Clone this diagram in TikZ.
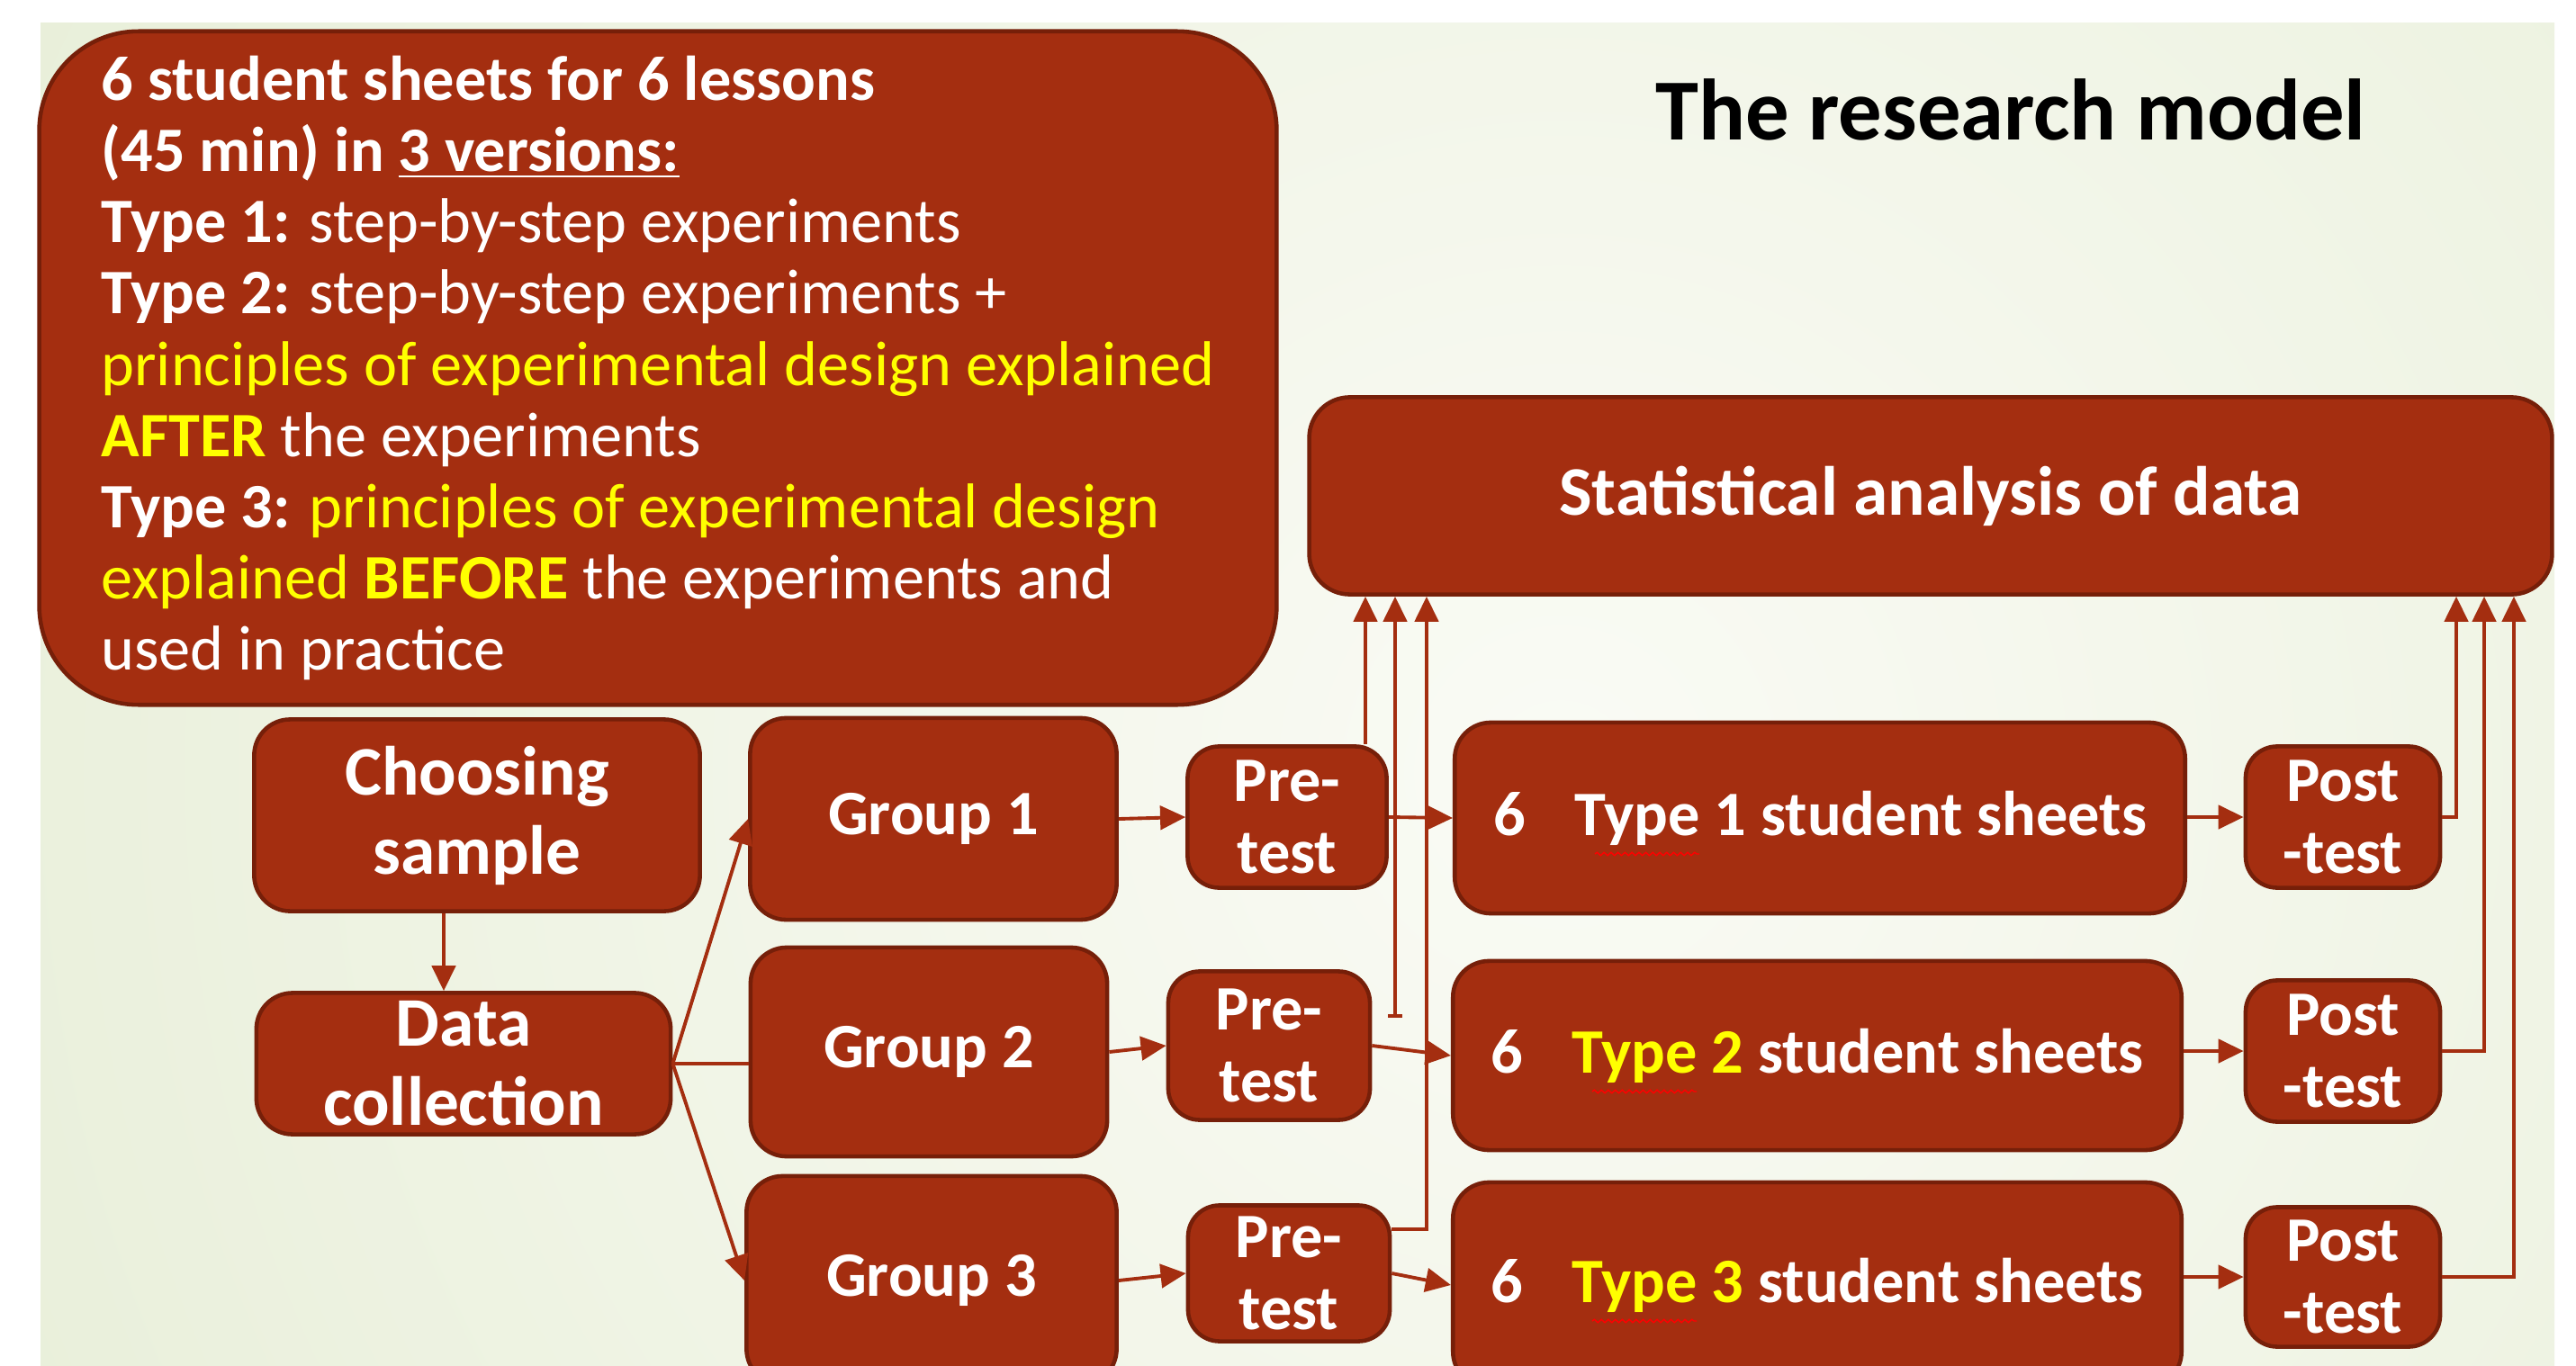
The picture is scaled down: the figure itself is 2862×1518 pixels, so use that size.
\documentclass[tikz,border=0pt]{standalone}
\usepackage{fontspec}
\setmainfont{Carlito}
\usetikzlibrary{arrows.meta,calc,decorations.pathmorphing}

\definecolor{rust}{RGB}{164,46,16}
\definecolor{rustdark}{RGB}{118,31,9}
\definecolor{hilite}{RGB}{255,255,0}
\definecolor{bgin}{RGB}{250,251,245}
\definecolor{bgout}{RGB}{216,228,192}

\tikzset{
  box/.style={draw=rustdark, line width=1.3pt, fill=rust, text=white, rounded corners=0.4cm,
    align=center, inner sep=0pt, font=\bfseries\fontsize{20}{22.5}\selectfont},
  big/.style={font=\bfseries\fontsize{22}{25}\selectfont},
  arr/.style={draw=rust, line width=1.1pt, -{Triangle[length=8pt,width=7.5pt]}},
  link/.style={draw=rust, line width=1.1pt},
  spell/.style={draw=red, line width=0.4pt, decorate,
    decoration={snake, amplitude=0.5pt, segment length=2.2pt}},
}
\newcommand{\hl}[1]{\textcolor{hilite}{#1}}

\begin{document}
\begin{tikzpicture}[x=0.01cm, y=-0.01cm]
\useasboundingbox (0,0) rectangle (2862,1518);
\clip (0,0) rectangle (2862,1518);

% slide background
\begin{scope}
\clip (45,25) rectangle (2838,1518);
\shade[inner color=bgin, outer color=bgout] (1734,858) circle (37cm);
\end{scope}

\node[box, align=left, rounded corners=1.1cm, minimum width=13.74cm, minimum height=7.48cm,
  font=\fontsize{20}{22.5}\selectfont] (sheets) at (731,409) {%
  \textbf{6 student sheets for 6 lessons}\\
  \textbf{(45 min) in \underline{3 versions:}}\\
  \textbf{Type 1:} step-by-step experiments\\
  \textbf{Type 2:} step-by-step experiments +\\
  \hl{principles of experimental design explained}\\
  \hl{\textbf{AFTER}} the experiments\\
  \textbf{Type 3:} \hl{principles of experimental design}\\
  \hl{explained \textbf{BEFORE}} the experiments and\\
  used in practice};
\node[font=\bfseries\fontsize{27.5}{30}\selectfont] (title) at (2234,122) {The research model};

\node[box, big, rounded corners=0.45cm, minimum width=13.8cm, minimum height=2.19cm] (stats) at (2145,551) {Statistical analysis of data};

\node[box, big, minimum width=4.95cm, minimum height=2.13cm] (choose) at (530,906) {Choosing\\sample};
\node[box, big, minimum width=4.6cm, minimum height=1.57cm] (collect) at (515,1182) {Data\\collection};

\node[box, minimum width=4.07cm, minimum height=2.24cm] (g1) at (1037,910) {Group 1};
\node[box, minimum width=3.96cm, minimum height=2.32cm] (g2) at (1032,1169) {Group 2};
\node[box, minimum width=4.11cm, minimum height=2.32cm] (g3) at (1035,1423) {Group 3};

\node[box, rounded corners=0.35cm, minimum width=2.21cm, minimum height=1.57cm] (pre1) at (1430,908) {Pre-\\test};
\node[box, rounded corners=0.35cm, minimum width=2.24cm, minimum height=1.65cm] (pre2) at (1410,1162) {Pre-\\test};
\node[box, rounded corners=0.35cm, minimum width=2.24cm, minimum height=1.51cm] (pre3) at (1432,1415) {Pre-\\test};

\node[box, minimum width=8.11cm, minimum height=2.12cm] (t1) at (2022,909) {6\hspace{0.55cm}Type 1 student sheets};
\node[box, minimum width=8.09cm, minimum height=2.10cm] (t2) at (2019,1173) {6\hspace{0.55cm}\hl{Type 2} student sheets};
\node[box, minimum width=8.09cm, minimum height=2.28cm] (t3) at (2019,1428) {6\hspace{0.55cm}\hl{Type 3} student sheets};

\node[box, rounded corners=0.35cm, minimum width=2.16cm, minimum height=1.57cm] (post1) at (2603,908) {Post\\-test};
\node[box, rounded corners=0.35cm, minimum width=2.16cm, minimum height=1.57cm] (post2) at (2603,1168) {Post\\-test};
\node[box, rounded corners=0.35cm, minimum width=2.16cm, minimum height=1.55cm] (post3) at (2603,1419) {Post\\-test};

% where the vertical lines run
\coordinate (dropx) at (493,0);
\coordinate (up1) at (1517,0);
\coordinate (up2) at (1550,1131);
\coordinate (up3) at (1585,1366);
\coordinate (rx1) at (2729,0);
\coordinate (rx2) at (2760,0);
\coordinate (rx3) at (2793,0);

\draw[arr] (choose.south -| dropx) -- (collect.north -| dropx);
\draw[arr] (collect.east) -- (g1.west);
\draw[link] (collect.east) -- (g2.west |- collect.east);
\draw[arr] (collect.east) -- (g3.west);

\foreach \i in {1,2,3} {
  \draw[arr] (g\i.east) -- (pre\i.west);
  \draw[arr] (pre\i.east) -- (t\i.west);
  \draw[arr] (t\i.east |- post\i.west) -- (post\i.west);
  \draw[arr] (post\i.east) -| (stats.south -| rx\i);
}

\draw[arr] (pre1.north -| up1) -- (stats.south -| up1);
\draw[arr, {Bar[width=4.5pt]}-{Triangle[length=8pt,width=7.5pt]}] (up2) -- (stats.south -| up2);
\draw[arr] (pre3.east |- up3) -- (up3) -- (stats.south -| up3);

% spell-check marks under "Type"
\foreach \n in {t1,t2,t3}
  \draw[spell] ($(\n.center)+(-250,40)$) -- ++(116,0);
\end{tikzpicture}
\end{document}
